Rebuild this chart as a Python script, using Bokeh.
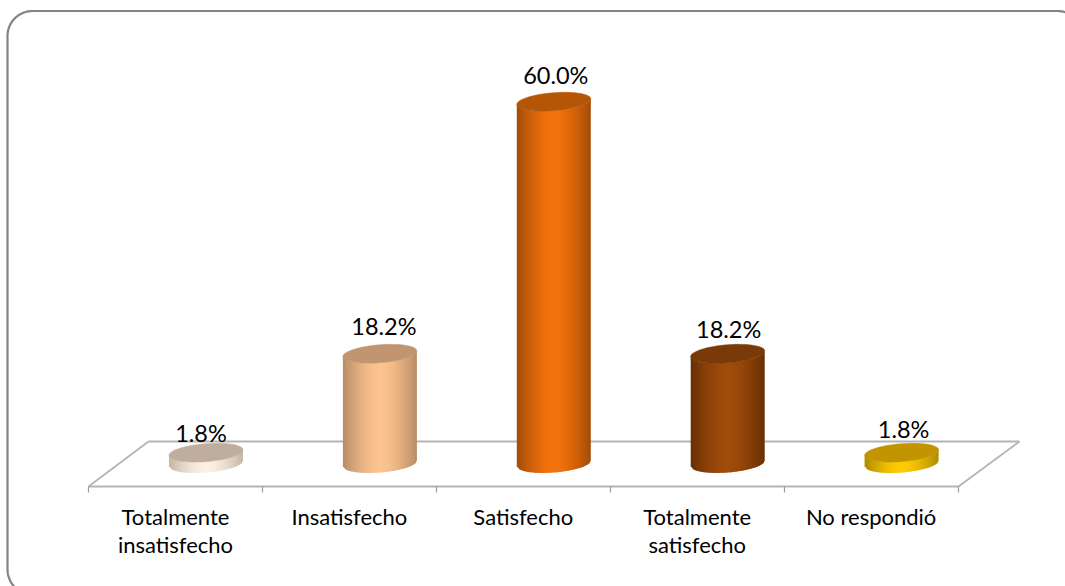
from bokeh.plotting import figure
from bokeh.models import Range1d
from bokeh.core.properties import value
from bokeh.embed import file_html
from bokeh.resources import INLINE
import math

categories = ["Totalmente\ninsatisfecho", "Insatisfecho", "Satisfecho", "Totalmente\nsatisfecho", "No respondió"]
values = [1.8, 18.2, 60.0, 18.2, 1.8]
labels = ["1.8%", "18.2%", "60.0%", "18.2%", "1.8%"]
center_colors = ["#fdf1e4", "#fdc48f", "#f4720d", "#a04c0a", "#ffcc00"]
edge_colors = ["#c4b6a6", "#b68c66", "#a04b08", "#662f05", "#ad8a00"]
top_colors = ["#bfae9e", "#c09570", "#b55607", "#7a3a07", "#c29400"]
label_dx = [-5, 4, 2, 1, 2]
label_dy = [20, 28, 27, 25, 24]

W, H = 1065, 586
PX_X = 173.9      # px per category
PX_Y = 6.03       # px per percentage point
X0, Y0 = 205.5, 463.0

def px(x):
    return (x - X0) / PX_X

def py(y):
    return (Y0 - y) / PX_Y

p = figure(width=W, height=H, output_backend="svg", toolbar_location=None,
           x_range=Range1d(px(0), px(W)), y_range=Range1d(py(H), py(0)),
           min_border=0, outline_line_color=None,
           background_fill_color="white", border_fill_color="white")
p.axis.visible = False
p.grid.visible = False

# rounded outer frame (runs off the right and bottom of the picture)
L, T, R, Bt, RAD = 7.0, 10.5, 1082.0, 594.0, 25.0
fx_, fy_ = [], []
for ccx, ccy, a0 in [(L + RAD, T + RAD, 180), (R - RAD, T + RAD, 270), (R - RAD, Bt - RAD, 0), (L + RAD, Bt - RAD, 90)]:
    for k in range(21):
        a = math.radians(a0 + 90 * k / 20)
        fx_.append(px(ccx + RAD * math.cos(a)))
        fy_.append(py(ccy + RAD * math.sin(a)))
fx_.append(fx_[0])
fy_.append(fy_[0])
p.line(fx_, fy_, line_color="#848484", line_width=2.2)

# floor
fl, fr, bl, br = 88, 958, 148, 1019
fy, by = 486, 441
floor_col = "#b4b4b4"
p.segment(px(fl), py(fy), px(fr), py(fy), line_color=floor_col, line_width=2.2)
p.segment(px(bl), py(by), px(br), py(by), line_color=floor_col, line_width=2.2)
p.segment(px(fl), py(fy), px(bl), py(by), line_color=floor_col, line_width=1.8)
p.segment(px(fr), py(fy), px(br), py(by), line_color=floor_col, line_width=1.8)
tick_px = [fl + (fr - fl) * i / len(categories) for i in range(len(categories) + 1)]
p.segment([px(t) for t in tick_px], py(fy), [px(t) for t in tick_px], py(fy + 6),
          line_color="#9c9c9c", line_width=1.2)

# cylinders
A, B, K = 37.0, 9.0, 0.075
N = 37

def hexmix(c1, c2, t):
    a = [int(c1[i:i + 2], 16) for i in (1, 3, 5)]
    b = [int(c2[i:i + 2], 16) for i in (1, 3, 5)]
    return "#%02x%02x%02x" % tuple(round(u + (v - u) * t) for u, v in zip(a, b))

def lower(dx):
    return K * dx / PX_Y - B * math.sqrt(max(0, 1 - (dx / A) ** 2)) / PX_Y

for i, v in enumerate(values):
    for s in range(N):
        d0 = -A + 2 * A * s / N
        d1 = min(A, -A + 2 * A * (s + 1) / N + 1.0)
        t = abs(-A + 2 * A * (s + 0.5) / N) / A
        col = hexmix(center_colors[i], edge_colors[i], t ** 1.6)
        p.patch([i + d0 / PX_X, i + d1 / PX_X, i + d1 / PX_X, i + d0 / PX_X],
                [lower(d0), lower(d1), v + lower(d1), v + lower(d0)],
                fill_color=col, line_color=None)
    steps = [2 * math.pi * k / 60 for k in range(60)]
    cx = [i + A * math.cos(a) / PX_X for a in steps]
    cy = [v + (K * A * math.cos(a) + B * math.sin(a)) / PX_Y for a in steps]
    p.patch(cx, cy, fill_color=top_colors[i], line_color=top_colors[i], line_width=0.5)

# data labels
p.text([i + label_dx[i] / PX_X for i in range(len(values))],
       [v + label_dy[i] / PX_Y for i, v in enumerate(values)],
       text=labels, text_font=value("Lato"), text_font_size="23.5px",
       text_align="center", text_baseline="middle", text_color="#000000")

# category labels
shift = (X0 - (fl + (fr - fl) / 10)) / PX_X
p.text([i - shift for i in range(len(categories))], [py(502)] * len(categories),
       text=categories, text_font=value("Lato"), text_font_size="22px",
       text_align="center", text_baseline="top", text_color="#000000", text_line_height=1.05)

html = file_html(p, INLINE).replace("<head>", "<head><style>html,body{margin:0;padding:0;overflow:hidden}</style>", 1)
open("out.html", "w").write(html)
